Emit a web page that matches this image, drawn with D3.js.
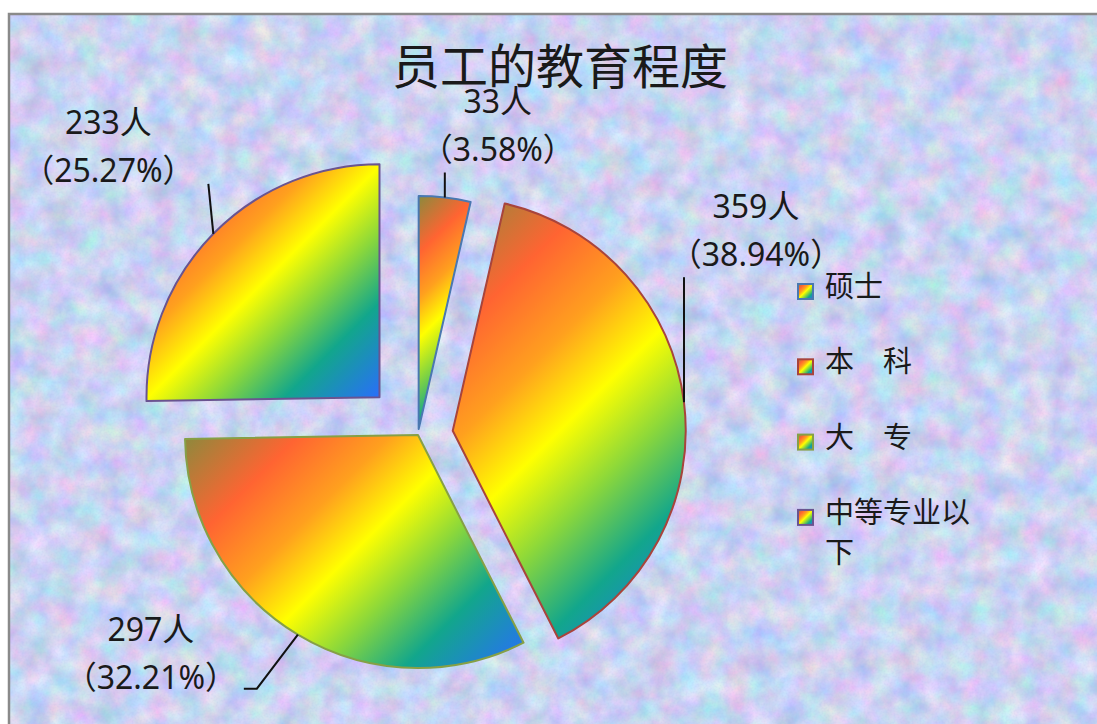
<!DOCTYPE html>
<meta charset="utf-8">
<head>
  <title>员工的教育程度</title>
</head>
<body>
<style>
body { margin: 0; background: #fff; }

.title {
  font: 48px "Noto Sans CJK SC", sans-serif;
  fill: #1a1a1a;
  text-anchor: middle;
}
.label text {
  font: 32px "Noto Sans", "Noto Sans CJK SC", sans-serif;
  fill: #1a1a1a;
  text-anchor: middle;
}
.legend text {
  font: 29px "Noto Sans CJK SC", sans-serif;
  fill: #1a1a1a;
}
.leader {
  fill: none;
  stroke: #111;
  stroke-width: 2;
}
</style>
<svg width="1097" height="724"></svg>
<script src="https://d3js.org/d3.v7.min.js"></script>
<script>

var title = "员工的教育程度";
var categories = ["硕士", "本　科", "大　专", "中等专业以下"];
var counts = [33, 359, 297, 233];
var percents = ["3.58%", "38.94%", "32.21%", "25.27%"];

// look
var strokes = ["#4a78b0", "#a8443c", "#86a046", "#6a5490"];
var rainbow = [[0, "#8a8a3c"], [0.2, "#ff6432"], [0.36, "#ffa01e"], [0.5, "#ffff00"],
               [0.64, "#8cd83a"], [0.79, "#12a68c"], [1, "#2a6cff"]];
var explode = [6, 35, 0, 54];
// leader bends and label position, relative to where the leader touches the slice
var leaderLayout = [
  { path: [[0, -25]], label: [53, -85] },
  { path: [[0, -125]], label: [72, -184] },
  { path: [[-41, 54], [-54, 54]], label: [-147, 6] },
  { path: [[-5, -50]], label: [-105, -100] }
];

var svg = d3.select("svg"),
    width = +svg.attr("width"),
    height = +svg.attr("height"),
    cx = 418, cy = 435, radius = 233;

var defs = svg.append("defs");

// soft mottled paper texture
var tex = defs.append("filter").attr("id", "paper")
    .attr("x", 0).attr("y", 0).attr("width", 1).attr("height", 1)
    .attr("color-interpolation-filters", "sRGB");
tex.append("feTurbulence").attr("type", "fractalNoise")
    .attr("baseFrequency", 0.04).attr("numOctaves", 4).attr("seed", 7).attr("result", "n");
tex.append("feColorMatrix").attr("in", "n").attr("type", "matrix")
    .attr("values", "0.4 0 0 0 0.6  0 0.3 0 0 0.68  0 0 0.18 0 0.86  0 0 0 0 1")
    .attr("result", "c");
tex.append("feTurbulence").attr("type", "fractalNoise")
    .attr("baseFrequency", 0.5).attr("numOctaves", 1).attr("seed", 2).attr("result", "g");
tex.append("feColorMatrix").attr("in", "g").attr("type", "matrix")
    .attr("values", "0 0 0 0 0.62  0 0 0 0 0.68  0 0 0 0 0.86  0.3 0 0 0 -0.12")
    .attr("result", "gg");
tex.append("feComposite").attr("in", "gg").attr("in2", "c").attr("operator", "over");

// gradient for the small legend squares
var boxGrad = defs.append("linearGradient").attr("id", "rainbowBox")
    .attr("x1", 0).attr("y1", 0).attr("x2", 1).attr("y2", 1);
boxGrad.selectAll("stop").data(rainbow).enter().append("stop")
    .attr("offset", function(d) { return d[0]; })
    .attr("stop-color", function(d) { return d[1]; });

svg.append("rect")
    .attr("x", 9).attr("y", 14)
    .attr("width", width + 10).attr("height", height + 10)
    .attr("fill", "#cfd6f2")
    .attr("filter", "url(#paper)");
svg.append("rect")
    .attr("x", 9).attr("y", 14)
    .attr("width", width + 10).attr("height", height + 10)
    .attr("fill", "none")
    .attr("stroke", "#8a8a8a")
    .attr("stroke-width", 2.5);

svg.append("text").attr("class", "title")
    .attr("x", 560).attr("y", 84)
    .text(title);

var data = categories.map(function(c, i) {
  return { name: c, count: counts[i], pct: percents[i], i: i };
});

var pie = d3.pie()
    .sort(null)
    .value(function(d) { return d.count; });

var path = d3.arc()
    .outerRadius(radius)
    .innerRadius(0);

function dir(a) { return [Math.sin(a), -Math.cos(a)]; }

var g = svg.append("g").attr("transform", "translate(" + cx + "," + cy + ")");

var arcs = g.selectAll(".arc")
    .data(pie(data))
    .enter().append("g")
    .attr("class", "arc")
    .attr("transform", function(d) {
      var m = dir((d.startAngle + d.endAngle) / 2), e = explode[d.index];
      return "translate(" + (m[0] * e) + "," + (m[1] * e) + ")";
    });

arcs.append("path")
    .attr("d", path)
    .attr("stroke", function(d) { return strokes[d.index]; })
    .attr("stroke-width", 2)
    .attr("stroke-linejoin", "round")
    .each(function(d) {
      // 45 degree rainbow across the slice's box, like the office fill
      var b = this.getBBox(), s = (b.width + b.height) / 2;
      var lg = defs.append("linearGradient").attr("id", "rainbow" + d.index)
          .attr("gradientUnits", "userSpaceOnUse")
          .attr("x1", b.x).attr("y1", b.y)
          .attr("x2", b.x + s).attr("y2", b.y + s);
      lg.selectAll("stop").data(rainbow).enter().append("stop")
          .attr("offset", function(k) { return k[0]; })
          .attr("stop-color", function(k) { return k[1]; });
      d3.select(this).attr("fill", "url(#rainbow" + d.index + ")");
    });

// labels with leader lines
var labels = svg.append("g").attr("class", "label");

pie(data).forEach(function(d) {
  var m = (d.startAngle + d.endAngle) / 2,
      u = dir(m),
      e = explode[d.index],
      lay = leaderLayout[d.index];
  var tx = cx + u[0] * (e + radius), ty = cy + u[1] * (e + radius);
  var pts = [[tx, ty]].concat(lay.path.map(function(p) { return [tx + p[0], ty + p[1]]; }));
  labels.append("path").attr("class", "leader").attr("d", d3.line()(pts));
  var lx = tx + lay.label[0], ly = ty + lay.label[1];
  labels.append("text").attr("x", lx).attr("y", ly).text(d.data.count + "人");
  labels.append("text").attr("x", lx).attr("y", ly + 48).text("（" + d.data.pct + "）");
});

// legend
var legend = svg.append("g").attr("class", "legend")
    .attr("transform", "translate(797,292)");

var row = d3.scaleLinear().domain([0, 1]).range([0, 75.3]);

var item = legend.selectAll("g")
    .data(data)
    .enter().append("g")
    .attr("transform", function(d) { return "translate(0," + row(d.i) + ")"; });

item.append("rect")
    .attr("x", 1).attr("y", -8)
    .attr("width", 15).attr("height", 15)
    .attr("fill", "url(#rainbowBox)")
    .attr("stroke", function(d) { return strokes[d.i]; })
    .attr("stroke-width", 2);

item.each(function(d) {
  var t = d3.select(this).append("text").attr("x", 28).attr("y", 5);
  var lines = [], cur = "";
  var probe = t.append("tspan");
  d.name.split("").forEach(function(ch) {
    probe.text(cur + ch);
    if (probe.node().getComputedTextLength() > 165 && cur) { lines.push(cur); cur = ch; }
    else cur += ch;
  });
  lines.push(cur);
  probe.remove();
  lines.forEach(function(l, k) {
    t.append("tspan").attr("x", 28).attr("dy", k ? 40 : 0).text(l);
  });
});

</script>
</body>
</html>
